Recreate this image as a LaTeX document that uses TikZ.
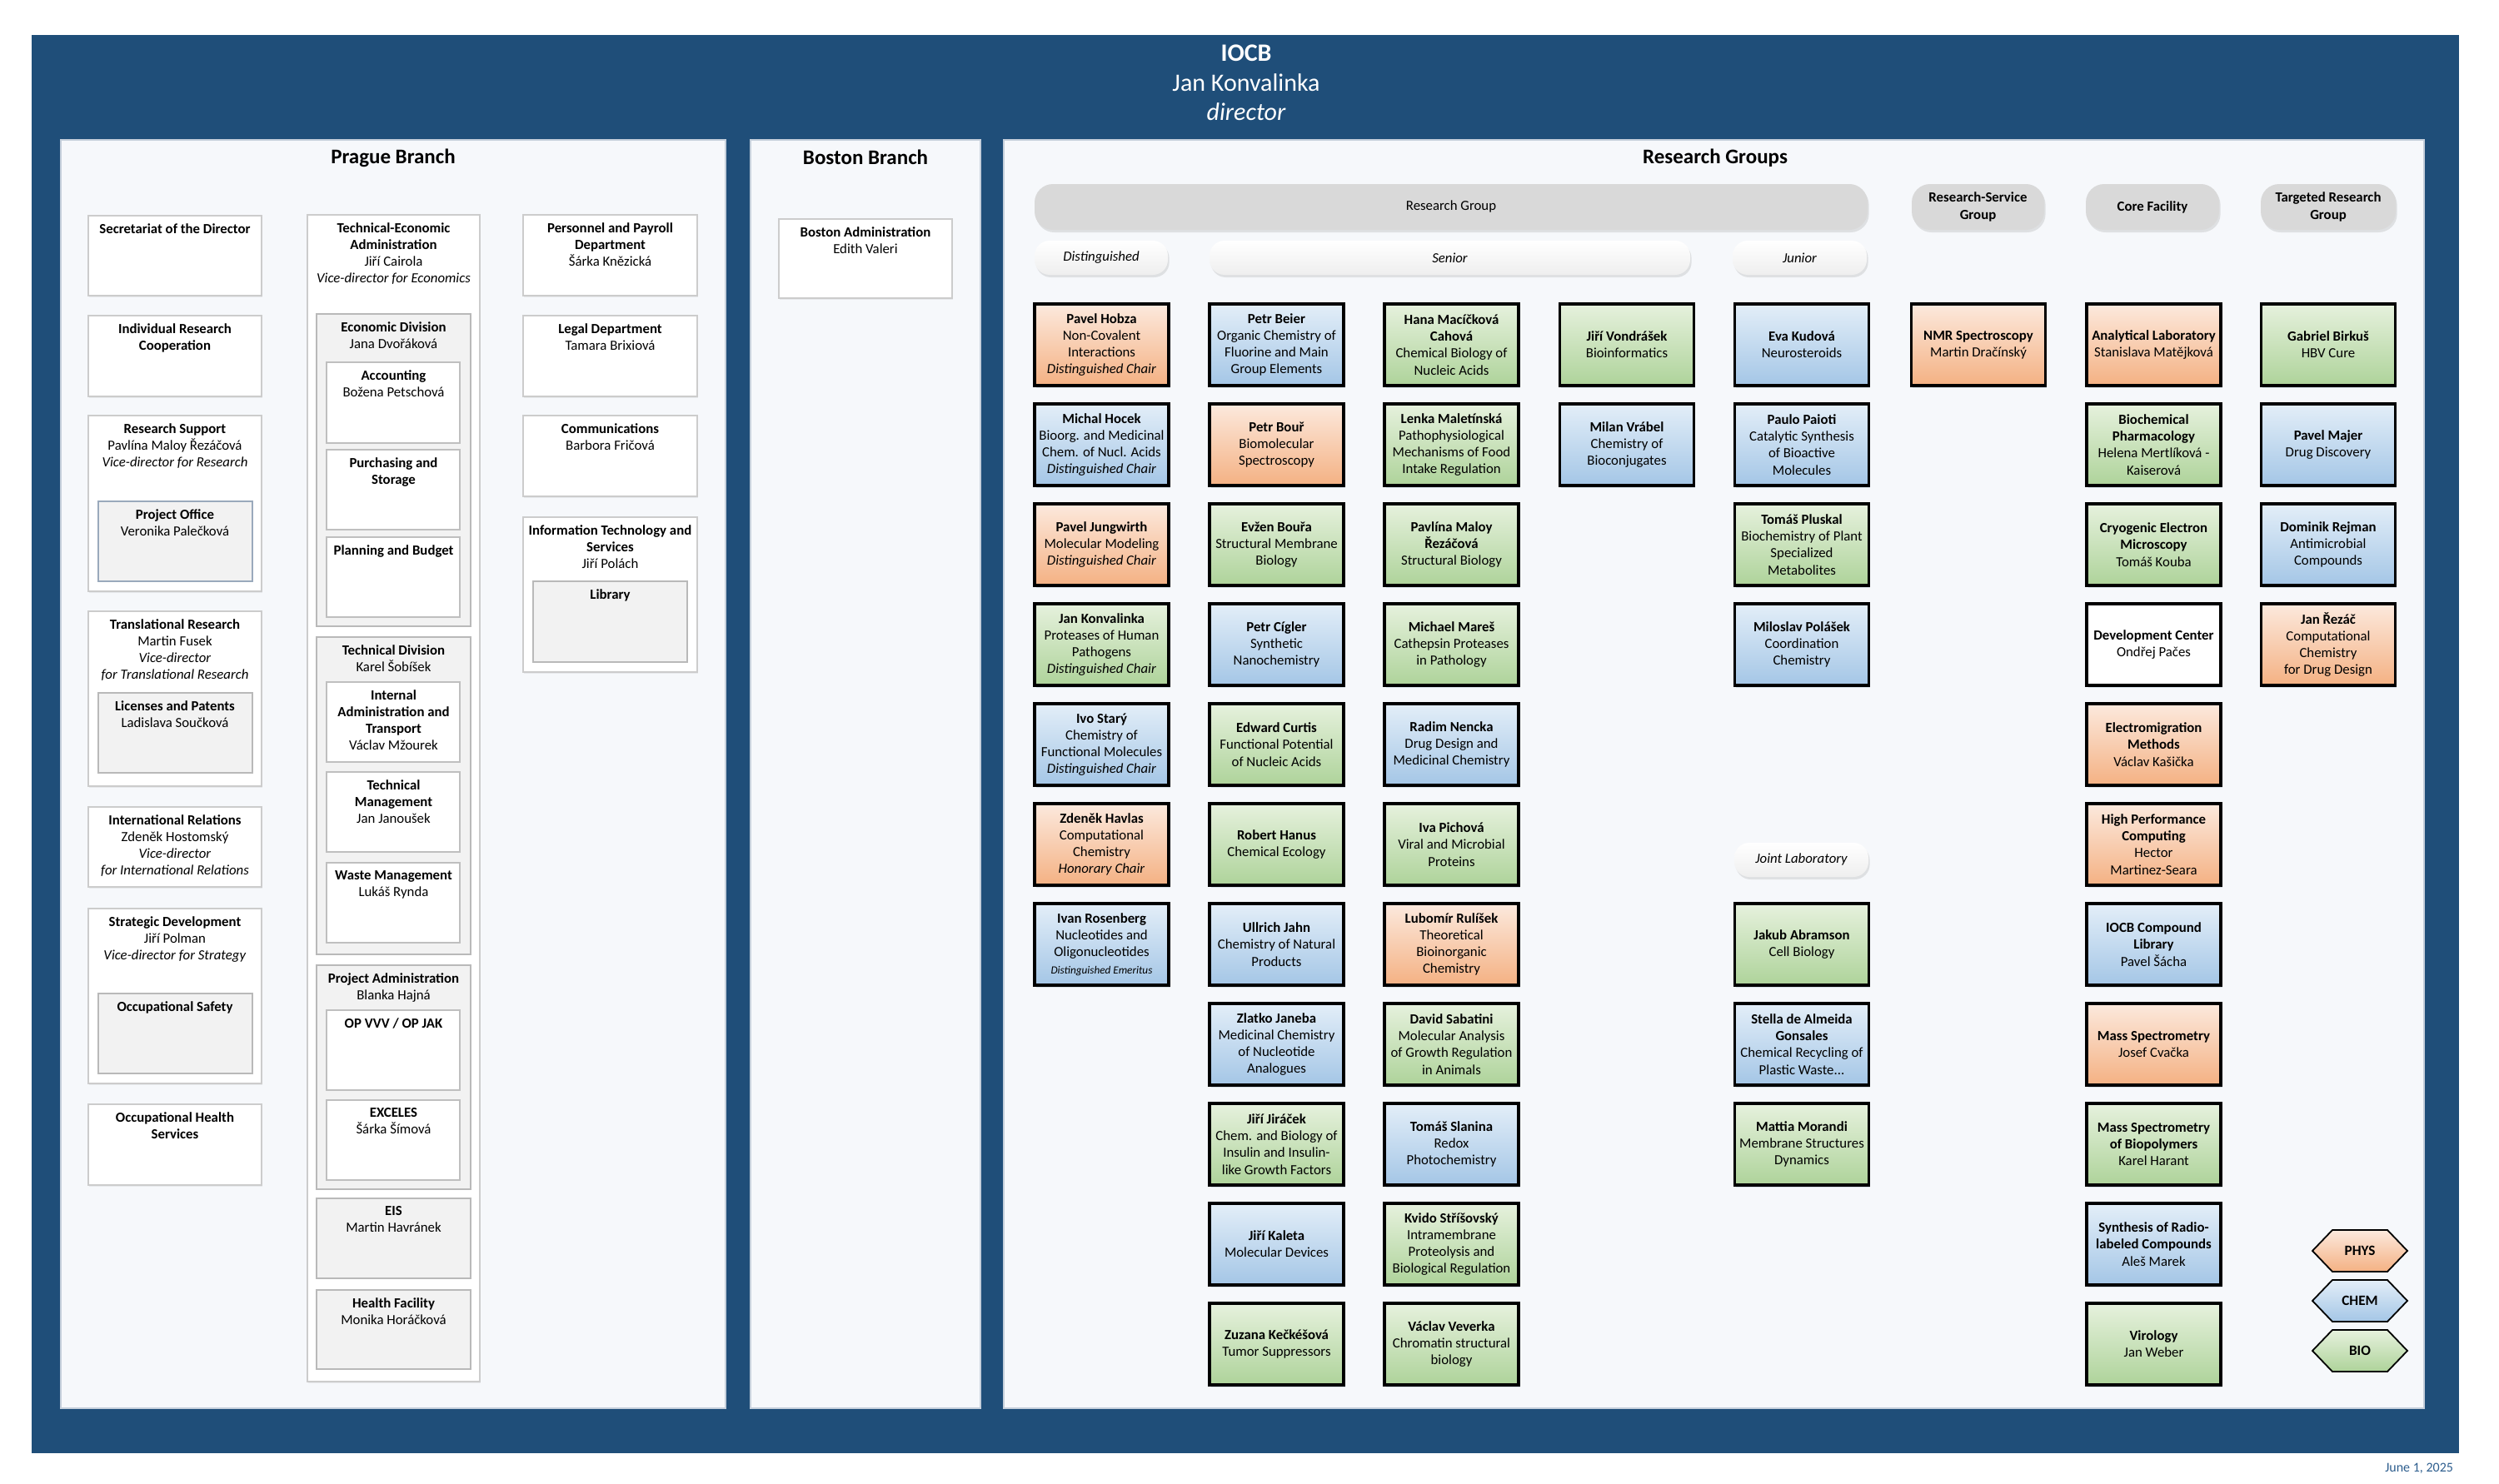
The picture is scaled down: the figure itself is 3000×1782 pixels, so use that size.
\documentclass[tikz,border=0pt]{standalone}
\usepackage{fontspec}
\setmainfont{Carlito}
\usepackage{xcolor}
\usepackage{tikz}
\usetikzlibrary{shadows}

\definecolor{iocbblue}{HTML}{1F4E79}
\definecolor{panelbg}{HTML}{F6F8FB}
\definecolor{panelline}{HTML}{C5CFDB}
\definecolor{subgray}{HTML}{F2F2F2}
\definecolor{bargray}{HTML}{D9D9D9}
\definecolor{pobord}{HTML}{9AA9BC}
\definecolor{physT}{HTML}{FCE9DD}
\definecolor{physB}{HTML}{F4B183}
\definecolor{chemT}{HTML}{E3EEF8}
\definecolor{chemB}{HTML}{A4C6E6}
\definecolor{bioT}{HTML}{E6F1DD}
\definecolor{bioB}{HTML}{AED39A}
\definecolor{datecol}{HTML}{2E5E8E}

\begin{document}
\begin{tikzpicture}[x=0.5pt, y=-0.5pt,
  panel/.style={draw=panelline, fill=panelbg, line width=0.8pt},
  ptitle/.style={font=\fontsize{12.5}{15}\selectfont\bfseries},
  unitbox/.style={draw=gray!40, fill=white, line width=0.6pt, drop shadow={opacity=0.12, shadow xshift=0.6pt, shadow yshift=-1.2pt}},
  subbox/.style={draw=gray!55, fill=subgray, line width=0.8pt},
  inbox/.style={draw=gray!50, fill=white, line width=0.8pt},
  utext/.style={anchor=north, align=center, inner sep=1pt, yshift=-2pt, font=\fontsize{8.4}{10.1}\selectfont},
  grp/.style={draw=black, line width=1.6pt, minimum width=80.5pt, minimum height=49pt, inner xsep=0.5pt, inner ysep=1pt, align=center, font=\fontsize{8.4}{10.1}\selectfont, drop shadow={opacity=0.25, fill=iocbblue!60, shadow xshift=0.8pt, shadow yshift=-1.5pt}},
  phys/.style={top color=physT, bottom color=physB},
  chem/.style={top color=chemT, bottom color=chemB},
  bio/.style={top color=bioT, bottom color=bioB},
  plain/.style={fill=white},
  topbar/.style={fill=bargray, rounded corners=11pt, minimum height=27.5pt, inner sep=1pt, align=center, font=\fontsize{8.4}{10.1}\selectfont, drop shadow={opacity=0.2, shadow xshift=0.8pt, shadow yshift=-1.5pt}},
  subbar/.style={top color=white, bottom color=gray!13, rounded corners=9pt, minimum height=20.5pt, inner sep=1pt, font=\fontsize{8.4}{10.1}\selectfont\itshape, drop shadow={opacity=0.2, shadow xshift=0.8pt, shadow yshift=-1.5pt}},
  legend/.style={draw=black, line width=0.9pt},
  keytext/.style={font=\fontsize{8.6}{10.1}\selectfont\bfseries}
]
  \def\colA{1322.5}
  \def\colB{1532.5}
  \def\colC{1742.5}
  \def\colD{1953}
  \def\colE{2163}
  \def\colF{2375}
  \def\colG{2585.5}
  \def\colH{2795}
  \def\rowA{414}
  \def\rowB{534}
  \def\rowC{654}
  \def\rowD{774}
  \def\rowE{894}
  \def\rowF{1014}
  \def\rowG{1134}
  \def\rowH{1254}
  \def\rowI{1374}
  \def\rowJ{1494}
  \def\rowK{1614}

  \useasboundingbox (0,0) rectangle (3000,1782);
  \fill[white] (0,0) rectangle (3000,1782);
  \fill[iocbblue] (38,42) rectangle (2952,1745);

  % director
  \node[text=white, font=\fontsize{15}{17.5}\selectfont\bfseries] (iocb) at (1496,64) {IOCB};
  \node[text=white, font=\fontsize{15}{17.5}\selectfont] (dirname) at (1496,99) {Jan Konvalinka};
  \node[text=white, font=\fontsize{15}{17.5}\selectfont\itshape] (dirrole) at (1496,134) {director};

  % panels
  \draw[panel] (73,168) rectangle (871,1691);
  \draw[panel] (901,168) rectangle (1177,1691);
  \draw[panel] (1205,168) rectangle (2910,1691);
  \node[ptitle] (prague) at (472,190) {Prague Branch};
  \node[ptitle] (boston) at (1039,189) {Boston Branch};
  \node[ptitle] (research) at (2059,190) {Research Groups};

  % Prague, left column
  \draw[unitbox] (106,259) rectangle (314,355);
  \node[utext] (secr) at (210,262) {\textbf{Secretariat of the Director}};
  \draw[unitbox] (106,379) rectangle (314,476);
  \node[utext] (indiv) at (210,382) {\textbf{Individual Research}\\\textbf{Cooperation}};
  \draw[unitbox] (106,499) rectangle (314,710);
  \node[utext] (ressup) at (210,502) {\textbf{Research Support}\\Pavlína Maloy Řezáčová\\\textit{Vice-director for Research}};
  \draw[subbox, draw=pobord, line width=1.1pt] (118,602) rectangle (303,698);
  \node[utext] (projoff) at (210,605) {\textbf{Project Office}\\Veronika Palečková};
  \draw[unitbox] (106,734) rectangle (314,944);
  \node[utext] (transl) at (210,737) {\textbf{Translational Research}\\Martin Fusek\\\textit{Vice-director}\\\textit{for Translational Research}};
  \draw[subbox] (118,832) rectangle (303,928);
  \node[utext] (licpat) at (210,835) {\textbf{Licenses and Patents}\\Ladislava Součková};
  \draw[unitbox] (106,969) rectangle (314,1065);
  \node[utext] (intrel) at (210,972) {\textbf{International Relations}\\Zdeněk Hostomský\\\textit{Vice-director}\\\textit{for International Relations}};
  \draw[unitbox] (106,1091) rectangle (314,1301);
  \node[utext] (strat) at (210,1094) {\textbf{Strategic Development}\\Jiří Polman\\\textit{Vice-director for Strategy}};
  \draw[subbox] (118,1193) rectangle (303,1289);
  \node[utext] (occsaf) at (210,1196) {\textbf{Occupational Safety}};
  \draw[unitbox] (106,1326) rectangle (314,1423);
  \node[utext] (occhealth) at (210,1329) {\textbf{Occupational Health}\\\textbf{Services}};

  % Prague, middle column
  \draw[unitbox] (369,258) rectangle (576,1659);
  \node[utext] (tea) at (472.5,261) {\textbf{Technical-Economic}\\\textbf{Administration}\\Jiří Cairola\\\textit{Vice-director for Economics}};
  \draw[subbox] (380,377) rectangle (565,752);
  \node[utext] (econ) at (472.5,380) {\textbf{Economic Division}\\Jana Dvořáková};
  \draw[inbox] (392,435) rectangle (552,532);
  \node[utext] (acct) at (472.5,438) {\textbf{Accounting}\\Božena Petschová};
  \draw[inbox] (392,540) rectangle (552,636);
  \node[utext] (purch) at (472.5,543) {\textbf{Purchasing and}\\\textbf{Storage}};
  \draw[inbox] (392,645) rectangle (552,741);
  \node[utext] (plan) at (472.5,648) {\textbf{Planning and Budget}};
  \draw[subbox] (380,765) rectangle (565,1146);
  \node[utext] (techdiv) at (472.5,768) {\textbf{Technical Division}\\Karel Šobíšek};
  \draw[inbox] (392,819) rectangle (552,915);
  \node[utext] (intadm) at (472.5,822) {\textbf{Internal}\\\textbf{Administration and}\\\textbf{Transport}\\Václav Mžourek};
  \draw[inbox] (392,927) rectangle (552,1023);
  \node[utext] (techmgmt) at (472.5,930) {\textbf{Technical}\\\textbf{Management}\\Jan Janoušek};
  \draw[inbox] (392,1036) rectangle (552,1132);
  \node[utext] (waste) at (472.5,1039) {\textbf{Waste Management}\\Lukáš Rynda};
  \draw[subbox] (380,1159) rectangle (565,1428);
  \node[utext] (projadm) at (472.5,1162) {\textbf{Project Administration}\\Blanka Hajná};
  \draw[inbox] (392,1213) rectangle (552,1309);
  \node[utext] (opvvv) at (472.5,1216) {\textbf{OP VVV / OP JAK}};
  \draw[inbox] (392,1321) rectangle (552,1417);
  \node[utext] (exceles) at (472.5,1324) {\textbf{EXCELES}\\Šárka Šímová};
  \draw[subbox] (380,1439) rectangle (565,1535);
  \node[utext] (eis) at (472.5,1442) {\textbf{EIS}\\Martin Havránek};
  \draw[subbox] (380,1549) rectangle (565,1644);
  \node[utext] (health) at (472.5,1552) {\textbf{Health Facility}\\Monika Horáčková};

  % Prague, right column
  \draw[unitbox] (628,258) rectangle (837,355);
  \node[utext] (pers) at (732.5,261) {\textbf{Personnel and Payroll}\\\textbf{Department}\\Šárka Knězická};
  \draw[unitbox] (628,379) rectangle (837,476);
  \node[utext] (legal) at (732.5,382) {\textbf{Legal Department}\\Tamara Brixiová};
  \draw[unitbox] (628,499) rectangle (837,596);
  \node[utext] (comm) at (732.5,502) {\textbf{Communications}\\Barbora Fričová};
  \draw[unitbox] (628,621) rectangle (837,807);
  \node[utext] (itserv) at (732.5,624) {\textbf{Information Technology and}\\\textbf{Services}\\Jiří Polách};
  \draw[subbox] (640,698) rectangle (825,795);
  \node[utext] (library) at (732.5,701) {\textbf{Library}};

  % Boston
  \draw[unitbox] (935,263) rectangle (1143,358);
  \node[utext] (bostadm) at (1039,266) {\textbf{Boston Administration}\\Edith Valeri};

  % research group headers
  \node[topbar, minimum width=500pt] (rgall) at (1742,248.5) {Research Group};
  \node[topbar, minimum width=79.5pt] (rsg) at (2374.5,248.5) {\textbf{Research-Service}\\\textbf{Group}};
  \node[topbar, minimum width=80pt] (core) at (2584,248.5) {\textbf{Core Facility}};
  \node[topbar, minimum width=81pt] (trg) at (2795,248.5) {\textbf{Targeted Research}\\\textbf{Group}};
  \node[subbar, minimum width=80pt] (dist) at (1322,309.5) {Distinguished};
  \node[subbar, minimum width=288.5pt] (senior) at (1740.5,309.5) {Senior};
  \node[subbar, minimum width=80.5pt] (junior) at (2160.5,309.5) {Junior};
  \node[subbar, minimum width=80.5pt] (jointlab) at (2162.5,1032.5) {Joint Laboratory};

  % distinguished
  \node[grp, phys] (hobza) at (\colA,\rowA) {\textbf{Pavel Hobza}\\Non-Covalent\\Interactions\\\textit{Distinguished Chair}};
  \node[grp, chem] (hocek) at (\colA,\rowB) {\textbf{Michal Hocek}\\Bioorg. and Medicinal\\Chem. of Nucl. Acids\\\textit{Distinguished Chair}};
  \node[grp, phys] (jungwirth) at (\colA,\rowC) {\textbf{Pavel Jungwirth}\\Molecular Modeling\\\textit{Distinguished Chair}};
  \node[grp, bio] (konvalinka) at (\colA,\rowD) {\textbf{Jan Konvalinka}\\Proteases of Human\\Pathogens\\\textit{Distinguished Chair}};
  \node[grp, chem] (stary) at (\colA,\rowE) {\textbf{Ivo Starý}\\Chemistry of\\Functional Molecules\\\textit{Distinguished Chair}};
  \node[grp, phys] (havlas) at (\colA,\rowF) {\textbf{Zdeněk Havlas}\\Computational\\Chemistry\\\textit{Honorary Chair}};
  \node[grp, chem] (rosenberg) at (\colA,\rowG) {\textbf{Ivan Rosenberg}\\Nucleotides and\\Oligonucleotides\\{\fontsize{6.6}{9}\selectfont\textit{Distinguished Emeritus}}};

  % senior
  \node[grp, chem] (beier) at (\colB,\rowA) {\textbf{Petr Beier}\\Organic Chemistry of\\Fluorine and Main\\Group Elements};
  \node[grp, phys] (bour) at (\colB,\rowB) {\textbf{Petr Bouř}\\Biomolecular\\Spectroscopy};
  \node[grp, bio] (boura) at (\colB,\rowC) {\textbf{Evžen Bouřa}\\Structural Membrane\\Biology};
  \node[grp, chem] (cigler) at (\colB,\rowD) {\textbf{Petr Cígler}\\Synthetic\\Nanochemistry};
  \node[grp, bio] (curtis) at (\colB,\rowE) {\textbf{Edward Curtis}\\Functional Potential\\of Nucleic Acids};
  \node[grp, bio] (hanus) at (\colB,\rowF) {\textbf{Robert Hanus}\\Chemical Ecology};
  \node[grp, chem] (jahn) at (\colB,\rowG) {\textbf{Ullrich Jahn}\\Chemistry of Natural\\Products};
  \node[grp, chem] (janeba) at (\colB,\rowH) {\textbf{Zlatko Janeba}\\Medicinal Chemistry\\of Nucleotide\\Analogues};
  \node[grp, bio] (jiracek) at (\colB,\rowI) {\textbf{Jiří Jiráček}\\Chem. and Biology of\\Insulin and Insulin-\\like Growth Factors};
  \node[grp, chem] (kaleta) at (\colB,\rowJ) {\textbf{Jiří Kaleta}\\Molecular Devices};
  \node[grp, bio] (keckesova) at (\colB,\rowK) {\textbf{Zuzana Kečkéšová}\\Tumor Suppressors};

  \node[grp, bio] (cahova) at (\colC,\rowA) {\textbf{Hana Macíčková}\\\textbf{Cahová}\\Chemical Biology of\\Nucleic Acids};
  \node[grp, bio] (maletinska) at (\colC,\rowB) {\textbf{Lenka Maletínská}\\Pathophysiological\\Mechanisms of Food\\Intake Regulation};
  \node[grp, bio] (rezacova) at (\colC,\rowC) {\textbf{Pavlína Maloy}\\\textbf{Řezáčová}\\Structural Biology};
  \node[grp, bio] (mares) at (\colC,\rowD) {\textbf{Michael Mareš}\\Cathepsin Proteases\\in Pathology};
  \node[grp, chem] (nencka) at (\colC,\rowE) {\textbf{Radim Nencka}\\Drug Design and\\Medicinal Chemistry};
  \node[grp, bio] (pichova) at (\colC,\rowF) {\textbf{Iva Pichová}\\Viral and Microbial\\Proteins};
  \node[grp, phys] (rulisek) at (\colC,\rowG) {\textbf{Lubomír Rulíšek}\\Theoretical\\Bioinorganic\\Chemistry};
  \node[grp, bio] (sabatini) at (\colC,\rowH) {\textbf{David Sabatini}\\Molecular Analysis\\of Growth Regulation\\in Animals};
  \node[grp, chem] (slanina) at (\colC,\rowI) {\textbf{Tomáš Slanina}\\Redox\\Photochemistry};
  \node[grp, bio] (strisovsky) at (\colC,\rowJ) {\textbf{Kvido Stříšovský}\\Intramembrane\\Proteolysis and\\Biological Regulation};
  \node[grp, bio] (veverka) at (\colC,\rowK) {\textbf{Václav Veverka}\\Chromatin structural\\biology};

  \node[grp, bio] (vondrasek) at (\colD,\rowA) {\textbf{Jiří Vondrášek}\\Bioinformatics};
  \node[grp, chem] (vrabel) at (\colD,\rowB) {\textbf{Milan Vrábel}\\Chemistry of\\Bioconjugates};

  % junior and joint laboratory
  \node[grp, chem] (kudova) at (\colE,\rowA) {\textbf{Eva Kudová}\\Neurosteroids};
  \node[grp, chem] (paioti) at (\colE,\rowB) {\textbf{Paulo Paioti}\\Catalytic Synthesis\\of Bioactive\\Molecules};
  \node[grp, bio] (pluskal) at (\colE,\rowC) {\textbf{Tomáš Pluskal}\\Biochemistry of Plant\\Specialized\\Metabolites};
  \node[grp, chem] (polasek) at (\colE,\rowD) {\textbf{Miloslav Polášek}\\Coordination\\Chemistry};
  \node[grp, bio] (abramson) at (\colE,\rowG) {\textbf{Jakub Abramson}\\Cell Biology};
  \node[grp, chem] (gonsales) at (\colE,\rowH) {\textbf{Stella de Almeida}\\\textbf{Gonsales}\\Chemical Recycling of\\Plastic Waste...};
  \node[grp, bio] (morandi) at (\colE,\rowI) {\textbf{Mattia Morandi}\\Membrane Structures\\Dynamics};

  % research-service group
  \node[grp, phys] (nmr) at (\colF,\rowA) {\textbf{NMR Spectroscopy}\\Martin Dračínský};

  % core facilities
  \node[grp, phys] (anlab) at (\colG,\rowA) {\textbf{Analytical Laboratory}\\Stanislava Matějková};
  \node[grp, bio] (biopharm) at (\colG,\rowB) {\textbf{Biochemical}\\\textbf{Pharmacology}\\Helena Mertlíková -\\Kaiserová};
  \node[grp, bio] (cryoem) at (\colG,\rowC) {\textbf{Cryogenic Electron}\\\textbf{Microscopy}\\Tomáš Kouba};
  \node[grp, plain] (devcenter) at (\colG,\rowD) {\textbf{Development Center}\\Ondřej Pačes};
  \node[grp, phys] (electromig) at (\colG,\rowE) {\textbf{Electromigration}\\\textbf{Methods}\\Václav Kašička};
  \node[grp, phys] (hpc) at (\colG,\rowF) {\textbf{High Performance}\\\textbf{Computing}\\Hector\\Martinez-Seara};
  \node[grp, chem] (complib) at (\colG,\rowG) {\textbf{IOCB Compound}\\\textbf{Library}\\Pavel Šácha};
  \node[grp, phys] (massspec) at (\colG,\rowH) {\textbf{Mass Spectrometry}\\Josef Cvačka};
  \node[grp, bio] (biopoly) at (\colG,\rowI) {\textbf{Mass Spectrometry}\\\textbf{of Biopolymers}\\Karel Harant};
  \node[grp, chem] (radio) at (\colG,\rowJ) {\textbf{Synthesis of Radio-}\\\textbf{labeled Compounds}\\Aleš Marek};
  \node[grp, bio] (virology) at (\colG,\rowK) {\textbf{Virology}\\Jan Weber};

  % targeted research groups
  \node[grp, bio] (birkus) at (\colH,\rowA) {\textbf{Gabriel Birkuš}\\HBV Cure};
  \node[grp, chem] (majer) at (\colH,\rowB) {\textbf{Pavel Majer}\\Drug Discovery};
  \node[grp, chem] (rejman) at (\colH,\rowC) {\textbf{Dominik Rejman}\\Antimicrobial\\Compounds};
  \node[grp, phys] (rezac) at (\colH,\rowD) {\textbf{Jan Řezáč}\\Computational\\Chemistry\\for Drug Design};

  % legend
  \draw[legend, phys] (2776,1502) -- ++(24,-25) -- ++(66,0) -- ++(24,25) -- ++(-24,25) -- ++(-66,0) -- cycle;
  \node[keytext] (physkey) at (2833,1502) {PHYS};
  \draw[legend, chem] (2776,1562) -- ++(24,-25) -- ++(66,0) -- ++(24,25) -- ++(-24,25) -- ++(-66,0) -- cycle;
  \node[keytext] (chemkey) at (2833,1562) {CHEM};
  \draw[legend, bio] (2776,1622) -- ++(24,-25) -- ++(66,0) -- ++(24,25) -- ++(-24,25) -- ++(-66,0) -- cycle;
  \node[keytext] (biokey) at (2833,1622) {BIO};

  \node[anchor=east, text=datecol, font=\fontsize{8}{9}\selectfont] (date) at (2952,1763) {June 1, 2025};
\end{tikzpicture}
\end{document}
